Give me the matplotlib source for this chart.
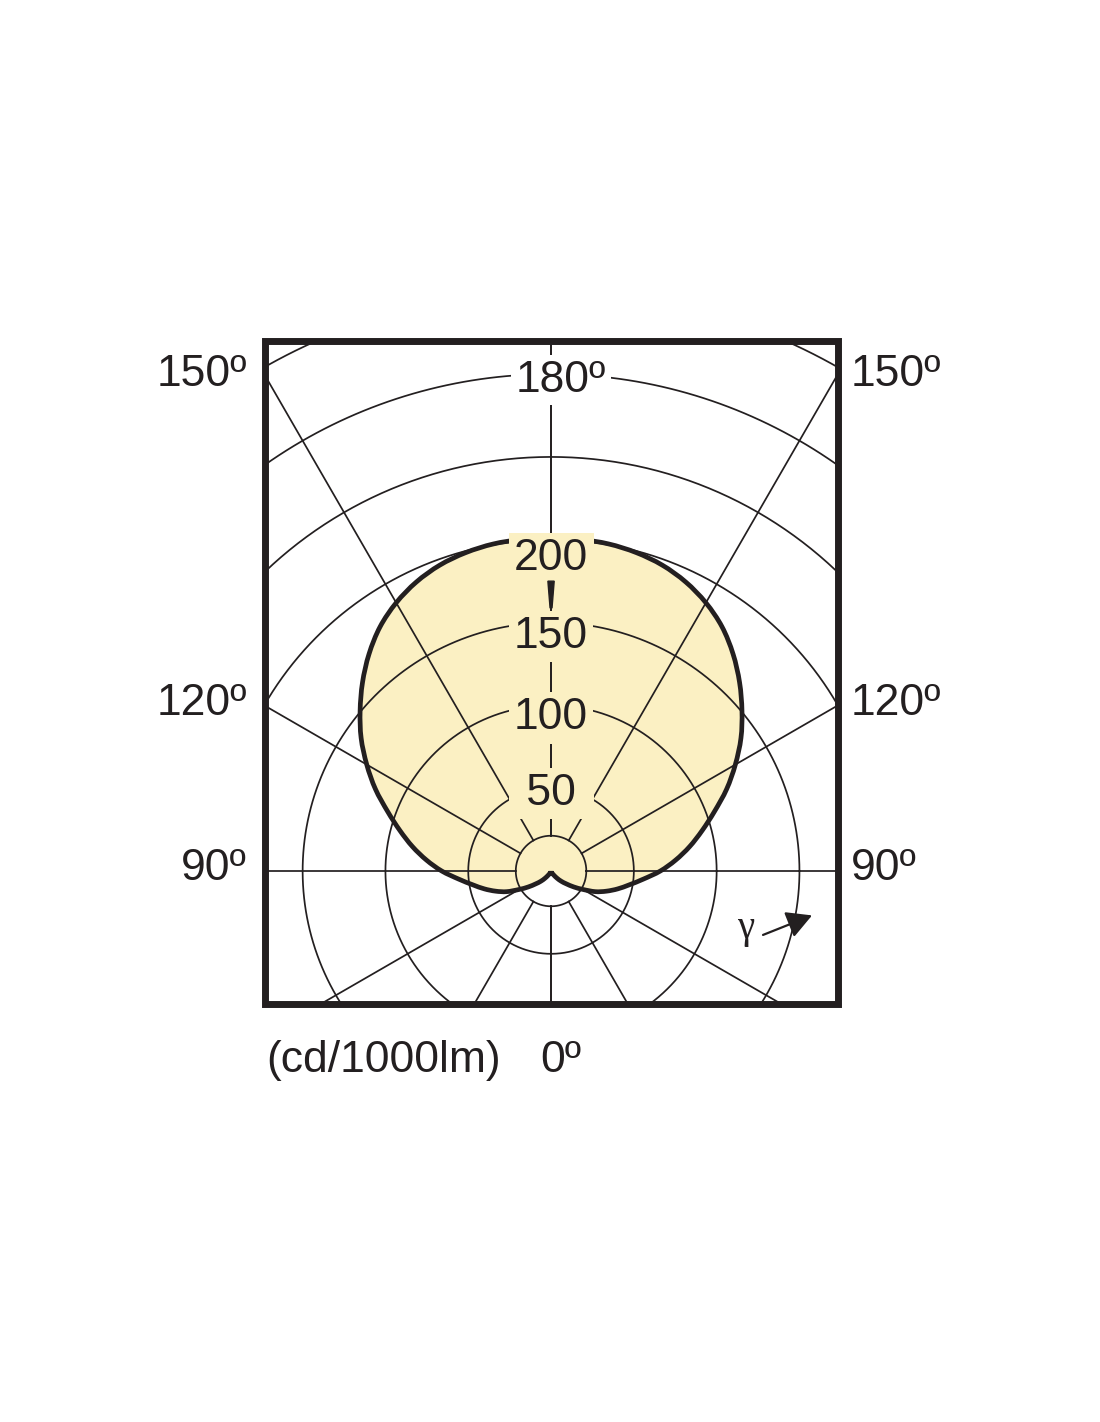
import numpy as np
import matplotlib
matplotlib.use("Agg")
import matplotlib.pyplot as plt
from matplotlib.patches import FancyArrowPatch, Rectangle, Polygon, PathPatch
from matplotlib.path import Path

# ---------------- data ----------------
gamma_deg = [0, 5, 10, 15, 20, 25, 30, 35, 40, 45, 50, 55, 60, 65, 70, 75, 80, 85, 90,
             95, 100, 105, 110, 115, 120, 125, 130, 135, 140, 145, 150, 155, 160, 165,
             170, 175, 180]
intensity = [0.0, 0.2, 0.4, 0.6, 0.9, 1.3, 2.0, 3.4, 5.8, 8.8, 12.1, 16.8, 22.3, 29.5,
             35.6, 41.7, 48.0, 56.0, 66.0, 75.5, 85.0, 94.5, 105.0, 117.0, 128.5, 140.0,
             150.5, 161.0, 171.0, 180.0, 187.0, 192.5, 196.5, 199.0, 200.5, 201.0, 201.0]

ring_values = [50, 100, 150, 200, 250, 300, 350]
ring_labels = ["50", "100", "150", "200"]
radial_angles = [0, 30, 60, 90, 120, 150, 180]
center_radius = 21.3
side_labels = ["150º", "120º", "90º"]
top_label = "180º"
bottom_labels = ["(cd/1000lm)", "0º"]
wedge_r = [159, 175]

# ---------------- style ----------------
INK = "#231f20"
FILL = "#fbf0c3"
FONT = "Liberation Sans"

fig = plt.figure(figsize=(11, 14.22), dpi=100)
ax = fig.add_axes([0.2405, 0.2943, 0.5209, 0.4659])
ax.set_xlim(-173, 173)
ax.set_ylim(-80, 320)
ax.set_xticks([])
ax.set_yticks([])
for s in ax.spines.values():
    s.set_visible(False)

g = np.radians(np.array(gamma_deg))
I = np.array(intensity)
xr = I * np.sin(g)
yr = -I * np.cos(g)
xc = np.concatenate([xr, -xr[::-1][1:]])
yc = np.concatenate([yr, yr[::-1][1:]])
P = np.column_stack([xc, yc])


def smooth_path(pts):
    """Catmull-Rom curve through every point, drawn as cubic Bezier segments."""
    n = len(pts)
    ext = np.vstack([pts[0], pts, pts[-1]])
    verts = [pts[0]]
    codes = [Path.MOVETO]
    for i in range(n - 1):
        p0, p1, p2, p3 = ext[i], ext[i + 1], ext[i + 2], ext[i + 3]
        c1 = p1 + (p2 - p0) / 6.0
        c2 = p2 - (p3 - p1) / 6.0
        verts += [c1, c2, p2]
        codes += [Path.CURVE4] * 3
    verts.append(pts[0])
    codes.append(Path.CLOSEPOLY)
    return Path(np.array(verts), codes)


curve = smooth_path(P)
ax.add_patch(PathPatch(curve, fc=FILL, ec="none", lw=0, zorder=1))

# grid circles
t = np.linspace(0, 2 * np.pi, 720)
for r in ring_values + [center_radius]:
    ax.plot(r * np.cos(t), r * np.sin(t), color=INK, lw=1.25, zorder=2)

# radial lines
for a in radial_angles:
    for sgn in (1, -1):
        ar = np.radians(a)
        rr = np.array([center_radius, 700])
        ax.plot(sgn * rr * np.sin(ar), -rr * np.cos(ar), color=INK, lw=1.25, zorder=2)

# curve outline
ax.add_patch(PathPatch(curve, fc="none", ec=INK, lw=3.4, zorder=3, joinstyle="miter"))

# ring labels
ring_label_y = [39.9, 85.5, 134.7, 181.8]
for lab, yy in zip(ring_labels, ring_label_y):
    txt = " " + lab + " " if lab == "50" else lab
    ax.text(0, yy, txt, ha="center", va="baseline", fontsize=32, family=FONT,
            color=INK, zorder=6,
            bbox=dict(boxstyle="square,pad=0.12", fc=FILL, ec="none"))

# wedge between 200 and 150
wr = np.array(wedge_r)
ax.add_patch(Polygon([[-0.6, wr[0]], [0.6, wr[0]], [1.9, wr[1]], [-1.9, wr[1]]],
                     closed=True, color=INK, zorder=7))

# top label
ax.text(6, 289.3, top_label, ha="center", va="baseline", fontsize=32, family=FONT,
        color=INK, zorder=6, clip_on=False,
        bbox=dict(boxstyle="square,pad=0.1", fc="white", ec="none"))

# side labels
side_y = [292.9, 94.2, -5.4]
for lab, yy in zip(side_labels, side_y):
    ax.text(-183.6, yy, lab, ha="right", va="baseline", fontsize=32, family=FONT,
            color=INK, clip_on=False)
    ax.text(181.2, yy, lab, ha="left", va="baseline", fontsize=32, family=FONT,
            color=INK, clip_on=False)

# bottom labels
ax.text(-171.7, -121.2, bottom_labels[0], ha="left", va="baseline", fontsize=32,
        family=FONT, color=INK, clip_on=False)
ax.text(-6.6, -121.2, bottom_labels[1], ha="left", va="baseline", fontsize=32,
        family=FONT, color=INK, clip_on=False)

# gamma arrow
ax.text(117.5, -34.5, "γ", ha="center", va="center", fontsize=28,
        family=["Liberation Serif", "DejaVu Serif"], color=INK, zorder=6)
arr = FancyArrowPatch((128, -38.6), (157.6, -26.8),
                      arrowstyle="-|>,head_length=0.7,head_width=0.38",
                      mutation_scale=22, lw=1.6, color=INK, shrinkA=0, shrinkB=0,
                      zorder=6)
ax.add_patch(arr)

# frame
ax.add_patch(Rectangle((0, 0), 1, 1, transform=ax.transAxes, fill=False, lw=5.0,
                       ec=INK, clip_on=False, zorder=10, joinstyle="miter"))

fig.savefig("out.png", dpi=100, facecolor="white")
